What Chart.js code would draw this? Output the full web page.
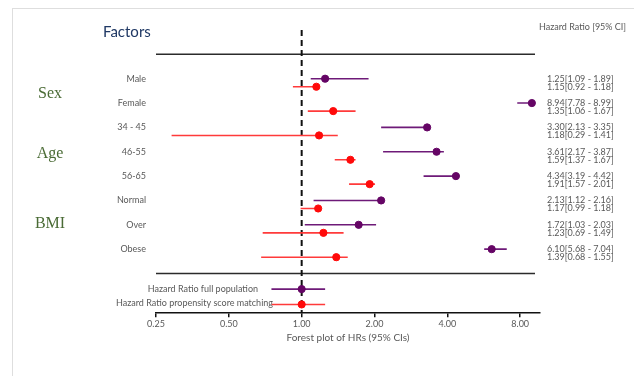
<!DOCTYPE html>
<html>
<head>
<meta charset="utf-8">
<script src="https://cdn.jsdelivr.net/npm/chart.js@4.4.1/dist/chart.umd.min.js"></script>
<style>
  html, body { margin: 0; padding: 0; background: #fff; }
  #wrap { position: relative; width: 634px; height: 376px; overflow: hidden; }
  #frame { position: absolute; left: 12px; top: 8px; width: 700px; height: 400px;
           border-top: 1px solid #dedede; border-left: 1px solid #dedede; }
  #forest { position: absolute; left: 0; top: 0; }
</style>
</head>
<body>
<div id="wrap">
  <div id="frame"></div>
  <canvas id="forest" width="634" height="376"></canvas>
</div>
<script>
// categories and groups
var factors = ['Male', 'Female', '34 - 45', '46-55', '56-65', 'Normal', 'Over', 'Obese'];
var groups = ['Sex', 'Age', 'BMI'];

// hazard ratios, full population
var fullHR = [1.25, 8.94, 3.30, 3.61, 4.34, 2.13, 1.72, 6.10];
var fullLo = [1.09, 7.78, 2.13, 2.17, 3.19, 1.12, 1.03, 5.68];
var fullHi = [1.89, 8.99, 3.35, 3.87, 4.42, 2.16, 2.03, 7.04];

// hazard ratios, propensity score matching
var psmHR = [1.15, 1.35, 1.18, 1.59, 1.91, 1.17, 1.23, 1.39];
var psmLo = [0.92, 1.06, 0.29, 1.37, 1.57, 0.99, 0.69, 0.68];
var psmHi = [1.18, 1.67, 1.41, 1.67, 2.01, 1.18, 1.49, 1.55];

// legend sample marks
var legendLabels = ['Hazard Ratio full population', 'Hazard Ratio propensity score matching'];
var legendHR = [1.00, 1.00];
var legendLo = [0.75, 0.75];
var legendHi = [1.25, 1.25];

// x-axis ticks
var xTicks = [0.25, 0.50, 1.00, 2.00, 4.00, 8.00];

var purple = '#650565';
var purpleLine = '#6e1a78';
var red = '#ff0a0a';
var redLine = '#ff3a3a';
var grey = '#595959';
var smallFont = '9px Lato, "Liberation Sans", sans-serif';

var psmOffset = 0.33;
var legendRows = [9.64, 10.27];

// build datasets
var datasets = [];
function addCI(lo, hi, yOf, color) {
    for (var i = 0; i < lo.length; i++) {
        datasets.push({
            data: [{ x: lo[i], y: yOf(i) }, { x: hi[i], y: yOf(i) }],
            showLine: true,
            borderColor: color,
            borderWidth: 1.6,
            pointRadius: 0,
            order: 2
        });
    }
}
function addPoints(hr, yOf, color) {
    datasets.push({
        data: hr.map(function(v, i) { return { x: v, y: yOf(i) }; }),
        backgroundColor: color,
        borderColor: color,
        pointRadius: 3.6,
        order: 0
    });
}

addCI(fullLo, fullHi, function(i) { return i + 1; }, purpleLine);
addCI(psmLo, psmHi, function(i) { return i + 1 + psmOffset; }, redLine);
addCI([legendLo[0]], [legendHi[0]], function() { return legendRows[0]; }, purpleLine);
addCI([legendLo[1]], [legendHi[1]], function() { return legendRows[1]; }, redLine);
addPoints(fullHR, function(i) { return i + 1; }, purple);
addPoints(psmHR, function(i) { return i + 1 + psmOffset; }, red);
addPoints([legendHR[0]], function() { return legendRows[0]; }, purple);
addPoints([legendHR[1]], function() { return legendRows[1]; }, red);

// dashed reference line at HR = 1 and the separator lines
var refLines = {
    id: 'refLines',
    beforeDatasetsDraw: function(chart) {
        var ctx = chart.ctx, xs = chart.scales.x, ys = chart.scales.y, area = chart.chartArea;
        ctx.save();
        ctx.strokeStyle = '#2b2b2b';
        ctx.lineWidth = 1.5;
        [0, 9].forEach(function(v) {
            var y = ys.getPixelForValue(v);
            ctx.beginPath();
            ctx.moveTo(xs.getPixelForValue(0.25), y);
            ctx.lineTo(area.right - 5, y);
            ctx.stroke();
        });
        var x = xs.getPixelForValue(1);
        ctx.strokeStyle = '#111';
        ctx.lineWidth = 2;
        ctx.setLineDash([6, 4]);
        ctx.beginPath();
        ctx.moveTo(x, area.top);
        ctx.lineTo(x, area.bottom);
        ctx.stroke();
        ctx.restore();
    }
};

// labels around the plot
var labelText = {
    id: 'labelText',
    afterDraw: function(chart) {
        var ctx = chart.ctx, ys = chart.scales.y;
        ctx.save();
        ctx.textBaseline = 'middle';

        ctx.fillStyle = '#1f3864';
        ctx.font = '15px Lato, "Open Sans", sans-serif';
        ctx.textAlign = 'left';
        ctx.fillText('Factors', 103, 32);

        ctx.fillStyle = grey;
        ctx.font = smallFont;
        ctx.fillText('Hazard Ratio [95% CI]', 539, 27);

        ctx.textAlign = 'right';
        factors.forEach(function(f, i) {
            ctx.fillText(f, 146, ys.getPixelForValue(i + 1));
        });
        ctx.fillText(legendLabels[0], 258, ys.getPixelForValue(legendRows[0]));
        ctx.fillText(legendLabels[1], 273, ys.getPixelForValue(legendRows[1]) - 1);

        ctx.textAlign = 'left';
        function fmt(h, l, u) { return h.toFixed(2) + '[' + l.toFixed(2) + ' - ' + u.toFixed(2) + ']'; }
        for (var i = 0; i < factors.length; i++) {
            ctx.fillText(fmt(fullHR[i], fullLo[i], fullHi[i]), 547, ys.getPixelForValue(i + 1));
            ctx.fillText(fmt(psmHR[i], psmLo[i], psmHi[i]), 547, ys.getPixelForValue(i + 1 + psmOffset));
        }

        ctx.fillStyle = '#4a6b35';
        ctx.font = '16px "Liberation Serif", "DejaVu Serif", serif';
        ctx.textAlign = 'center';
        var groupRows = [1.63, 4.1, 6.97];
        groups.forEach(function(g, i) {
            ctx.fillText(g, 50, ys.getPixelForValue(groupRows[i]));
        });
        ctx.restore();
    }
};

new Chart(document.getElementById('forest'), {
    type: 'scatter',
    data: { datasets: datasets },
    options: {
        responsive: false,
        animation: false,
        layout: { padding: { left: 156, right: 94, top: 30, bottom: 32 } },
        plugins: { legend: { display: false }, tooltip: { enabled: false } },
        scales: {
            x: {
                type: 'logarithmic',
                min: 0.25,
                max: 9.66,
                afterBuildTicks: function(scale) {
                    scale.ticks = xTicks.map(function(v) { return { value: v }; });
                },
                ticks: {
                    color: grey,
                    font: { family: 'Lato, "Liberation Sans", sans-serif', size: 9 },
                    padding: 1,
                    maxRotation: 0,
                    autoSkip: false,
                    callback: function(v) { return Number(v).toFixed(2); }
                },
                grid: { display: true, drawOnChartArea: false, tickLength: 4, color: '#111', lineWidth: 1.5 },
                border: { display: true, color: '#111', width: 1.5 },
                title: {
                    display: true,
                    text: 'Forest plot of HRs (95% CIs)',
                    color: grey,
                    font: { family: 'Lato, "Liberation Sans", sans-serif', size: 10 },
                    padding: { top: 2, bottom: 0 }
                }
            },
            y: {
                type: 'linear',
                reverse: true,
                min: -1,
                max: 10.63,
                display: false
            }
        }
    },
    plugins: [refLines, labelText]
});
</script>
</body>
</html>
